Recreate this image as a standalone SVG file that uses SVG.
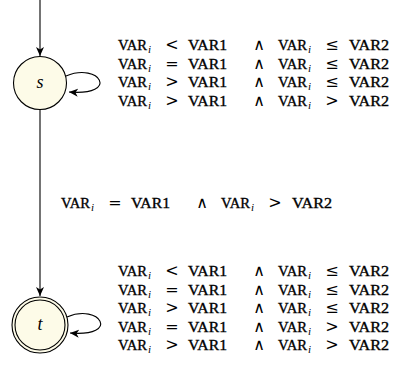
<svg xmlns="http://www.w3.org/2000/svg" width="394" height="385" viewBox="0 0 394 385">
<defs>
<style>
.st{fill:#fdfbe8;stroke:#000;stroke-width:1.1}
.e{fill:none;stroke:#000;stroke-width:1.1}
.tt{font-family:"Liberation Serif","DejaVu Serif",serif;font-size:15px;fill:#000;stroke:#000;stroke-width:0.35}
.m{font-family:"DejaVu Serif","Liberation Serif",serif;font-size:16px;fill:#000;text-anchor:middle}
.w{font-family:"DejaVu Sans","Liberation Sans",sans-serif;font-size:16px;fill:#000;text-anchor:middle}
.sub{font-family:"Liberation Serif","DejaVu Serif",serif;font-style:italic;font-size:11px;fill:#000}
.lbl{font-family:"Liberation Serif","DejaVu Serif",serif;font-style:italic;font-size:18px;fill:#000;text-anchor:middle}
</style>
<marker id="ah" markerWidth="10" markerHeight="10" refX="9" refY="4" orient="auto" markerUnits="userSpaceOnUse">
<path d="M0,0 L9,4 L0,8 L2.5,4 z" fill="#000"/>
</marker>
</defs>
<g id="connectors">
<path class="e" d="M40,0 L40,56" marker-end="url(#ah)"/>
<path class="e" d="M40,110 L40,296" marker-end="url(#ah)"/>
<path class="e" d="M66,76 C100,62 120,96 69,92" marker-end="url(#ah)"/>
<path class="e" d="M67,317 C100,303 121,337 70,333" marker-end="url(#ah)"/>
</g>
<g id="s">
<circle class="st" cx="40" cy="83" r="26.5"/>
<text class="lbl" x="40" y="88">s</text>
</g>
<g id="t">
<circle class="st" cx="40" cy="325" r="28"/>
<circle fill="none" stroke="#000" stroke-width="1.1" cx="40" cy="325" r="25"/>
<text class="lbl" x="40" y="330">t</text>
</g>
<g id="labels">
<g transform="translate(118,50)">
<text class="tt" x="0" textLength="29" lengthAdjust="spacingAndGlyphs">VAR</text><text class="sub" x="30" y="3">i</text><text class="m" x="54">&lt;</text><text class="tt" x="70" textLength="39" lengthAdjust="spacingAndGlyphs">VAR1</text><text class="w" x="141">∧</text><text class="tt" x="160" textLength="29" lengthAdjust="spacingAndGlyphs">VAR</text><text class="sub" x="190" y="3">i</text><text class="m" x="214">≤</text><text class="tt" x="231" textLength="40" lengthAdjust="spacingAndGlyphs">VAR2</text>
</g>
<g transform="translate(118,68.5)">
<text class="tt" x="0" textLength="29" lengthAdjust="spacingAndGlyphs">VAR</text><text class="sub" x="30" y="3">i</text><text class="m" x="54">=</text><text class="tt" x="70" textLength="39" lengthAdjust="spacingAndGlyphs">VAR1</text><text class="w" x="141">∧</text><text class="tt" x="160" textLength="29" lengthAdjust="spacingAndGlyphs">VAR</text><text class="sub" x="190" y="3">i</text><text class="m" x="214">≤</text><text class="tt" x="231" textLength="40" lengthAdjust="spacingAndGlyphs">VAR2</text>
</g>
<g transform="translate(118,87)">
<text class="tt" x="0" textLength="29" lengthAdjust="spacingAndGlyphs">VAR</text><text class="sub" x="30" y="3">i</text><text class="m" x="54">&gt;</text><text class="tt" x="70" textLength="39" lengthAdjust="spacingAndGlyphs">VAR1</text><text class="w" x="141">∧</text><text class="tt" x="160" textLength="29" lengthAdjust="spacingAndGlyphs">VAR</text><text class="sub" x="190" y="3">i</text><text class="m" x="214">≤</text><text class="tt" x="231" textLength="40" lengthAdjust="spacingAndGlyphs">VAR2</text>
</g>
<g transform="translate(118,105.5)">
<text class="tt" x="0" textLength="29" lengthAdjust="spacingAndGlyphs">VAR</text><text class="sub" x="30" y="3">i</text><text class="m" x="54">&gt;</text><text class="tt" x="70" textLength="39" lengthAdjust="spacingAndGlyphs">VAR1</text><text class="w" x="141">∧</text><text class="tt" x="160" textLength="29" lengthAdjust="spacingAndGlyphs">VAR</text><text class="sub" x="190" y="3">i</text><text class="m" x="214">&gt;</text><text class="tt" x="231" textLength="40" lengthAdjust="spacingAndGlyphs">VAR2</text>
</g>
<g transform="translate(61,208)">
<text class="tt" x="0" textLength="29" lengthAdjust="spacingAndGlyphs">VAR</text><text class="sub" x="30" y="3">i</text><text class="m" x="54">=</text><text class="tt" x="70" textLength="39" lengthAdjust="spacingAndGlyphs">VAR1</text><text class="w" x="141">∧</text><text class="tt" x="160" textLength="29" lengthAdjust="spacingAndGlyphs">VAR</text><text class="sub" x="190" y="3">i</text><text class="m" x="214">&gt;</text><text class="tt" x="231" textLength="40" lengthAdjust="spacingAndGlyphs">VAR2</text>
</g>
<g transform="translate(118,276)">
<text class="tt" x="0" textLength="29" lengthAdjust="spacingAndGlyphs">VAR</text><text class="sub" x="30" y="3">i</text><text class="m" x="54">&lt;</text><text class="tt" x="70" textLength="39" lengthAdjust="spacingAndGlyphs">VAR1</text><text class="w" x="141">∧</text><text class="tt" x="160" textLength="29" lengthAdjust="spacingAndGlyphs">VAR</text><text class="sub" x="190" y="3">i</text><text class="m" x="214">≤</text><text class="tt" x="231" textLength="40" lengthAdjust="spacingAndGlyphs">VAR2</text>
</g>
<g transform="translate(118,294.5)">
<text class="tt" x="0" textLength="29" lengthAdjust="spacingAndGlyphs">VAR</text><text class="sub" x="30" y="3">i</text><text class="m" x="54">=</text><text class="tt" x="70" textLength="39" lengthAdjust="spacingAndGlyphs">VAR1</text><text class="w" x="141">∧</text><text class="tt" x="160" textLength="29" lengthAdjust="spacingAndGlyphs">VAR</text><text class="sub" x="190" y="3">i</text><text class="m" x="214">≤</text><text class="tt" x="231" textLength="40" lengthAdjust="spacingAndGlyphs">VAR2</text>
</g>
<g transform="translate(118,313)">
<text class="tt" x="0" textLength="29" lengthAdjust="spacingAndGlyphs">VAR</text><text class="sub" x="30" y="3">i</text><text class="m" x="54">&gt;</text><text class="tt" x="70" textLength="39" lengthAdjust="spacingAndGlyphs">VAR1</text><text class="w" x="141">∧</text><text class="tt" x="160" textLength="29" lengthAdjust="spacingAndGlyphs">VAR</text><text class="sub" x="190" y="3">i</text><text class="m" x="214">≤</text><text class="tt" x="231" textLength="40" lengthAdjust="spacingAndGlyphs">VAR2</text>
</g>
<g transform="translate(118,331.5)">
<text class="tt" x="0" textLength="29" lengthAdjust="spacingAndGlyphs">VAR</text><text class="sub" x="30" y="3">i</text><text class="m" x="54">=</text><text class="tt" x="70" textLength="39" lengthAdjust="spacingAndGlyphs">VAR1</text><text class="w" x="141">∧</text><text class="tt" x="160" textLength="29" lengthAdjust="spacingAndGlyphs">VAR</text><text class="sub" x="190" y="3">i</text><text class="m" x="214">&gt;</text><text class="tt" x="231" textLength="40" lengthAdjust="spacingAndGlyphs">VAR2</text>
</g>
<g transform="translate(118,350)">
<text class="tt" x="0" textLength="29" lengthAdjust="spacingAndGlyphs">VAR</text><text class="sub" x="30" y="3">i</text><text class="m" x="54">&gt;</text><text class="tt" x="70" textLength="39" lengthAdjust="spacingAndGlyphs">VAR1</text><text class="w" x="141">∧</text><text class="tt" x="160" textLength="29" lengthAdjust="spacingAndGlyphs">VAR</text><text class="sub" x="190" y="3">i</text><text class="m" x="214">&gt;</text><text class="tt" x="231" textLength="40" lengthAdjust="spacingAndGlyphs">VAR2</text>
</g>
</g>
</svg>
